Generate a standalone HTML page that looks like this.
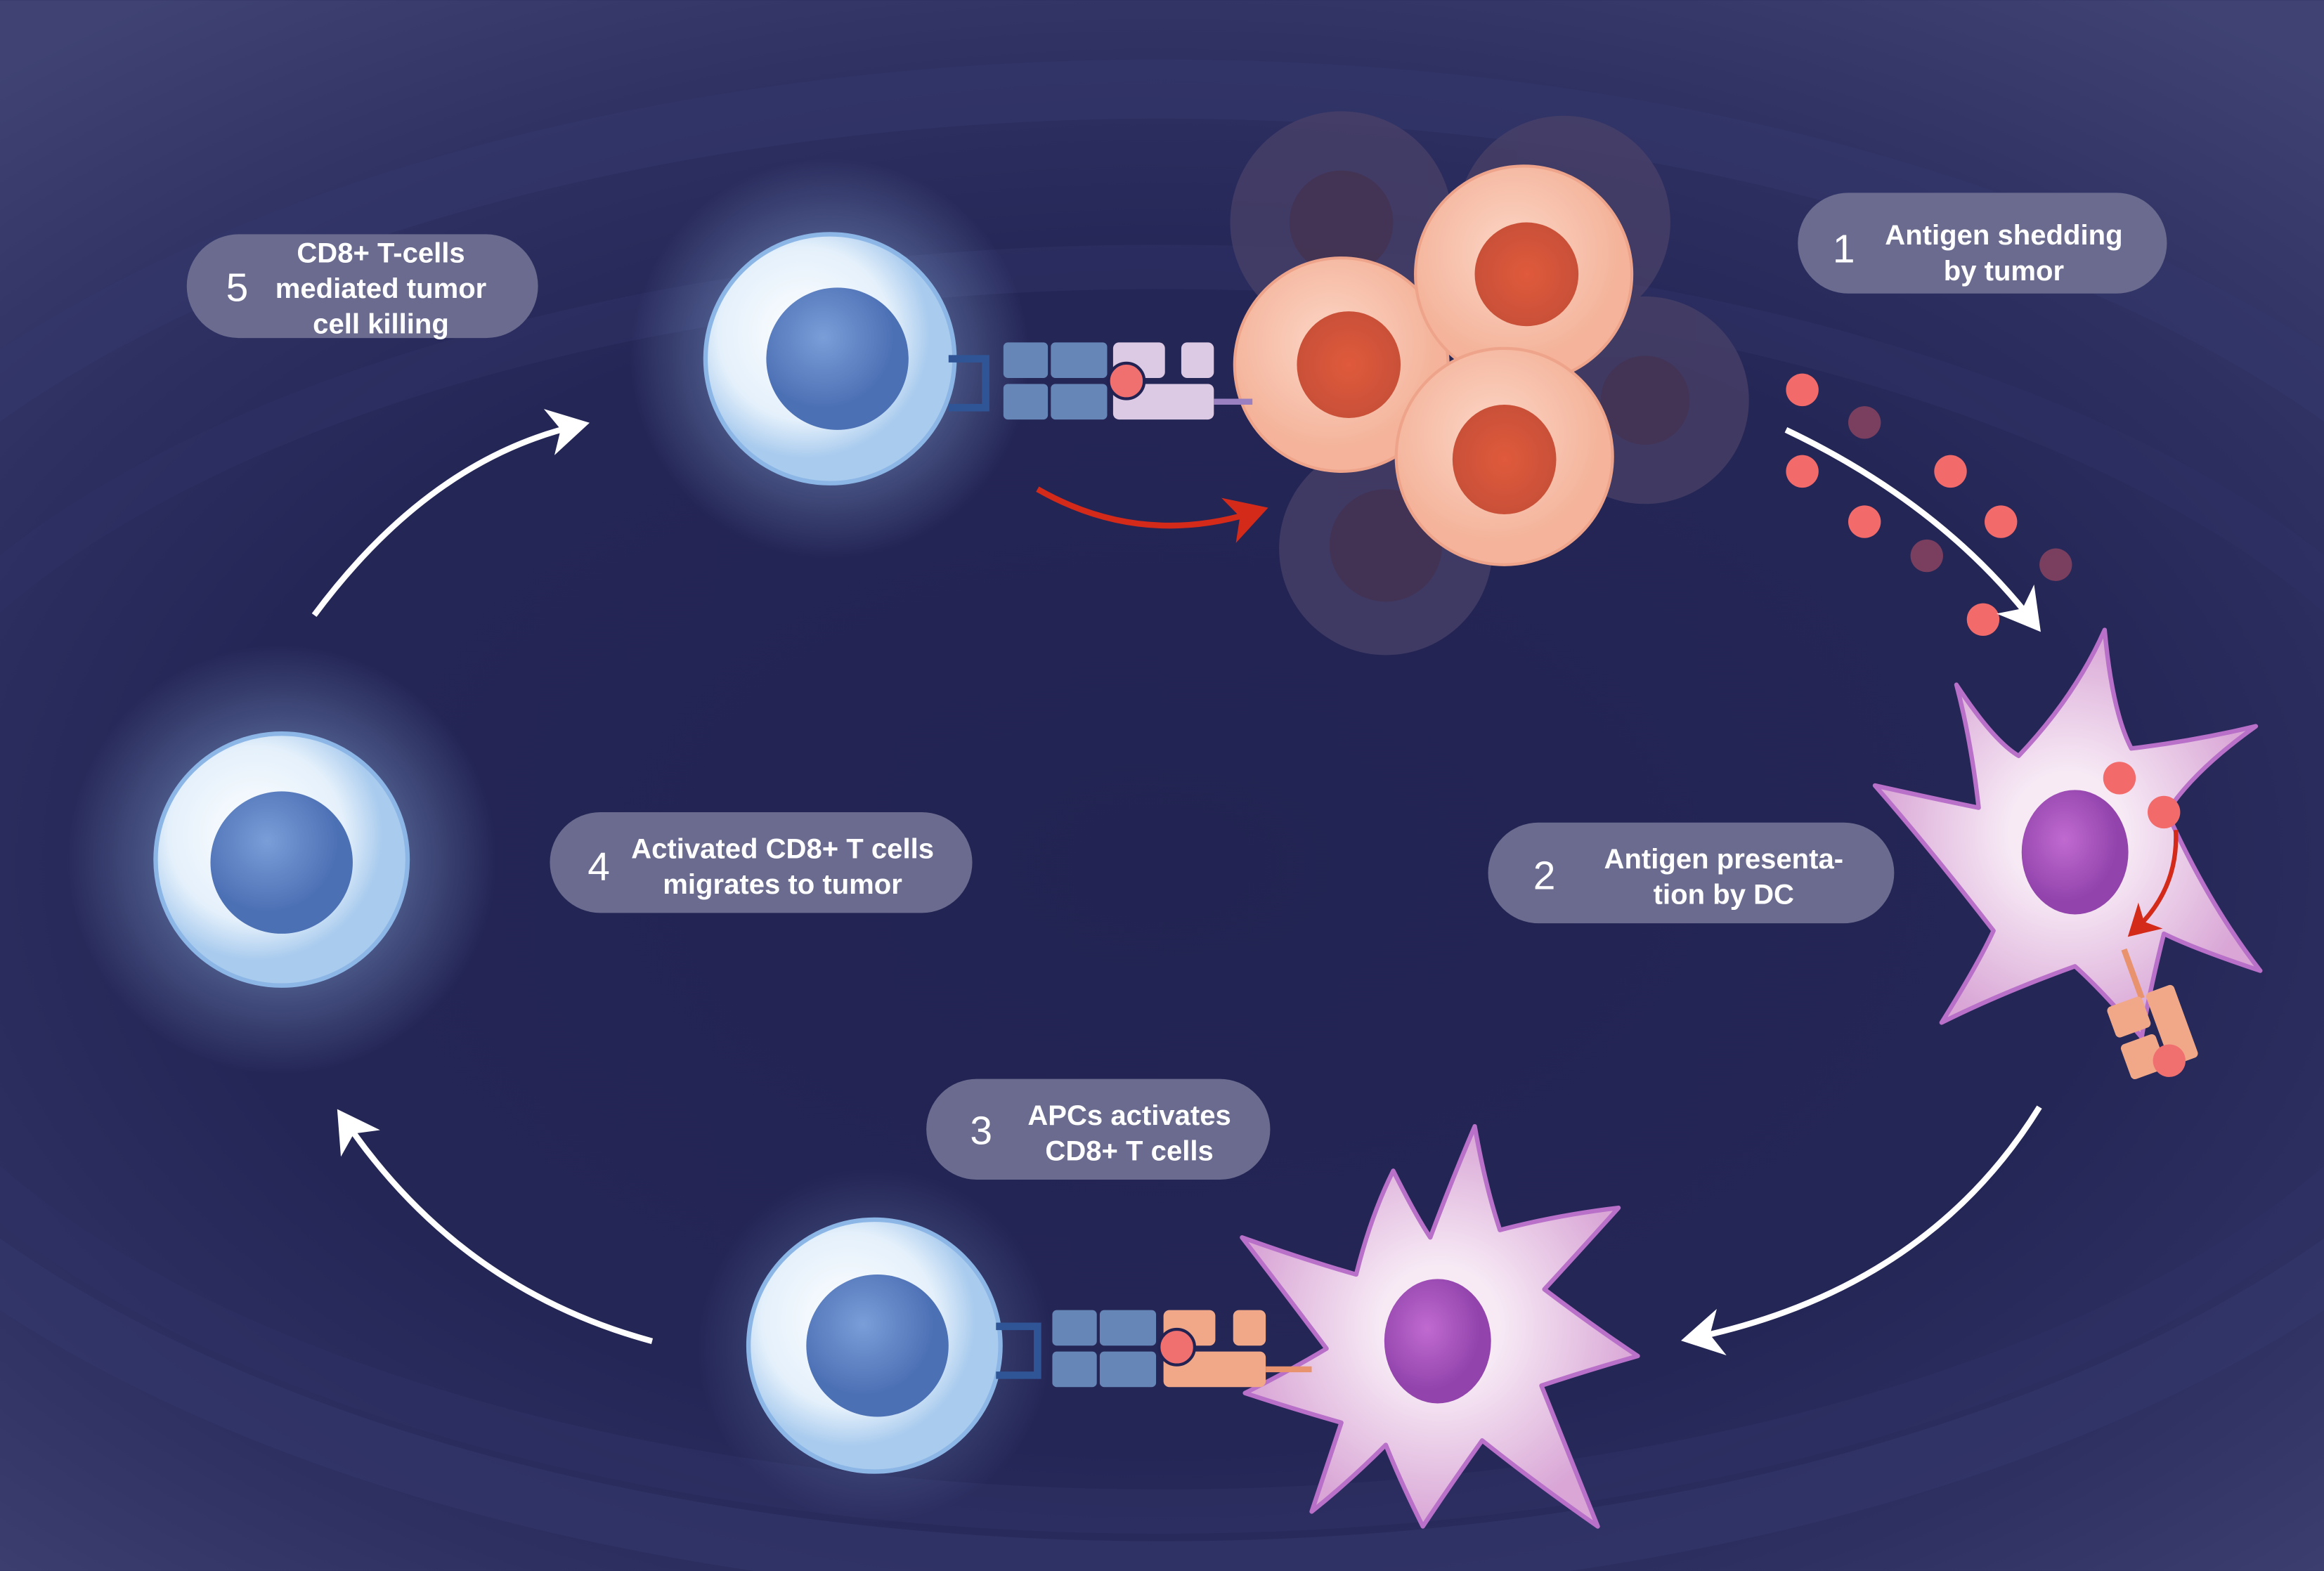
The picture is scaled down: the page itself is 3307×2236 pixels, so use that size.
<!DOCTYPE html>
<html><head><meta charset="utf-8"><style>
html,body{margin:0;padding:0;background:#222352;}
svg{display:block}
text{font-family:"Liberation Sans",sans-serif;fill:#fff}
</style></head><body>
<svg width="3307" height="2236" viewBox="0 0 1568 1060" xmlns="http://www.w3.org/2000/svg">
<defs>
<radialGradient id="bg" cx="0.5" cy="0.55" r="0.75" gradientTransform="translate(0.5 0.55) scale(1 0.9) translate(-0.5 -0.55)">
<stop offset="0" stop-color="#222352"/><stop offset="0.55" stop-color="#242656"/><stop offset="0.75" stop-color="#2e3062"/><stop offset="1" stop-color="#3f4273"/></radialGradient>
<radialGradient id="glow"><stop offset="0.5" stop-color="#8fb0e0" stop-opacity="0.6"/><stop offset="1" stop-color="#8fb0e0" stop-opacity="0"/></radialGradient>
<radialGradient id="tc" cx="0.4" cy="0.4"><stop offset="0" stop-color="#ffffff"/><stop offset="0.7" stop-color="#e4f0fb"/><stop offset="1" stop-color="#a9cbee"/></radialGradient>
<radialGradient id="tn" cx="0.4" cy="0.35"><stop offset="0" stop-color="#7a9ed8"/><stop offset="1" stop-color="#4c70b4"/></radialGradient>
<radialGradient id="tum" cx="0.45" cy="0.4"><stop offset="0" stop-color="#fcd6c6"/><stop offset="1" stop-color="#f4b39a"/></radialGradient>
<radialGradient id="tumn"><stop offset="0" stop-color="#e05a3c"/><stop offset="1" stop-color="#c95038"/></radialGradient>
<radialGradient id="dc"><stop offset="0.3" stop-color="#f7eaf5"/><stop offset="1" stop-color="#d9a6d6"/></radialGradient>
<radialGradient id="dcn" cx="0.4" cy="0.4"><stop offset="0" stop-color="#c06ad0"/><stop offset="1" stop-color="#9244ac"/></radialGradient>
<marker id="aw" markerWidth="8" markerHeight="8" refX="5" refY="4" orient="auto" markerUnits="strokeWidth"><path d="M0,0 L7,4 L0,8 L2,4 z" fill="#fff"/></marker>
<marker id="ar" markerWidth="8" markerHeight="8" refX="5" refY="4" orient="auto" markerUnits="strokeWidth"><path d="M0,0 L7,4 L0,8 L2,4 z" fill="#d42a1a"/></marker>
</defs>
<rect width="1568" height="1060" fill="url(#bg)"/>
<ellipse cx="784" cy="600" rx="900" ry="420" fill="none" stroke="#2e3064" stroke-width="30" opacity="0.6"/>
<ellipse cx="784" cy="560" rx="980" ry="500" fill="none" stroke="#34376a" stroke-width="40" opacity="0.6"/>

<g fill="#4a4268" opacity="0.75">
<circle cx="905" cy="150" r="75"/><circle cx="1055" cy="150" r="72"/><circle cx="1110" cy="270" r="70"/><circle cx="935" cy="370" r="72"/>
</g>
<g fill="#433250" opacity="0.8"><circle cx="905" cy="150" r="35"/><circle cx="935" cy="368" r="38"/><circle cx="1110" cy="270" r="30"/></g>
<circle cx="905" cy="246" r="72" fill="url(#tum)" stroke="#eea48a" stroke-width="2"/><ellipse cx="910" cy="246" rx="35" ry="36" fill="url(#tumn)"/>
<circle cx="1028" cy="185" r="73" fill="url(#tum)" stroke="#eea48a" stroke-width="2"/><ellipse cx="1030" cy="185" rx="35" ry="35" fill="url(#tumn)"/>
<circle cx="1015" cy="308" r="73" fill="url(#tum)" stroke="#eea48a" stroke-width="2"/><ellipse cx="1015" cy="310" rx="35" ry="37" fill="url(#tumn)"/>

<g>
<circle cx="560" cy="242" r="135" fill="url(#glow)" opacity="0.7"/>
<circle cx="560" cy="242" r="84" fill="url(#tc)" stroke="#8cb6e6" stroke-width="3"/>
<circle cx="565" cy="242" r="48" fill="url(#tn)"/>
<circle cx="190" cy="580" r="145" fill="url(#glow)" opacity="0.7"/>
<circle cx="190" cy="580" r="85" fill="url(#tc)" stroke="#8cb6e6" stroke-width="3"/>
<circle cx="190" cy="582" r="48" fill="url(#tn)"/>
<circle cx="590" cy="908" r="120" fill="url(#glow)" opacity="0.4"/>
<circle cx="590" cy="908" r="85" fill="url(#tc)" stroke="#8cb6e6" stroke-width="3"/>
<circle cx="592" cy="908" r="48" fill="url(#tn)"/>
</g>

<g>
<path d="M640 242 H665 V275 H640" fill="none" stroke="#2f5596" stroke-width="5"/>
<rect x="677" y="231" width="30" height="24" rx="3" fill="#6686b8"/><rect x="709" y="231" width="38" height="24" rx="3" fill="#6686b8"/>
<rect x="677" y="259" width="30" height="24" rx="3" fill="#6686b8"/><rect x="709" y="259" width="38" height="24" rx="3" fill="#6686b8"/>
<rect x="751" y="231" width="35" height="24" rx="4" fill="#dcc9e4"/><rect x="797" y="231" width="22" height="24" rx="4" fill="#dcc9e4"/>
<rect x="751" y="259" width="68" height="24" rx="4" fill="#dcc9e4"/>
<line x1="819" y1="271" x2="845" y2="271" stroke="#9a80c0" stroke-width="4"/>
<circle cx="760" cy="257" r="12" fill="#f07070" stroke="#222352" stroke-width="2"/>
</g>

<path d="M1320,462 Q1345,500 1362,510 Q1400,470 1420,425 Q1425,480 1438,505 Q1480,500 1522,490 Q1480,520 1462,548 Q1490,610 1525,655 Q1480,640 1460,630 Q1450,670 1445,700 Q1420,670 1400,652 Q1350,670 1310,690 Q1335,650 1345,628 Q1300,570 1265,530 Q1310,540 1335,545 Q1330,500 1320,462 Z" fill="url(#dc)" stroke="#b870c8" stroke-width="3" stroke-linejoin="round"/>
<ellipse cx="1400" cy="575" rx="36" ry="42" fill="url(#dcn)"/>
<circle cx="1430" cy="525" r="11" fill="#f26a6a"/><circle cx="1460" cy="548" r="11" fill="#f26a6a"/>
<path d="M1468 560 Q1470 600 1440 628" fill="none" stroke="#d42a1a" stroke-width="3" marker-end="url(#ar)"/>
<g transform="rotate(-20 1460 700)">
<line x1="1455" y1="635" x2="1455" y2="670" stroke="#e8936e" stroke-width="4"/>
<rect x="1430" y="668" width="25" height="22" rx="3" fill="#f0a888"/><rect x="1458" y="668" width="20" height="52" rx="3" fill="#f0a888"/>
<rect x="1430" y="695" width="25" height="25" rx="3" fill="#f0a888"/>
<circle cx="1458" cy="716" r="11" fill="#f07070"/>
</g>

<path d="M940,790 Q955,820 965,835 Q980,795 995,760 Q1002,800 1012,830 Q1050,820 1092,815 Q1065,845 1042,870 Q1075,895 1105,915 Q1070,925 1040,935 Q1060,985 1078,1030 Q1035,1000 1000,972 Q980,1000 960,1030 Q945,1000 935,975 Q910,1000 885,1020 Q895,990 905,960 Q870,950 840,940 Q870,925 895,910 Q865,870 838,835 Q880,850 915,860 Q925,820 940,790 Z" fill="url(#dc)" stroke="#b870c8" stroke-width="3" stroke-linejoin="round"/>
<ellipse cx="970" cy="905" rx="36" ry="42" fill="url(#dcn)"/>

<g>
<path d="M672 895 H700 V928 H672" fill="none" stroke="#2f5596" stroke-width="5"/>
<rect x="710" y="884" width="30" height="24" rx="3" fill="#6686b8"/><rect x="742" y="884" width="38" height="24" rx="3" fill="#6686b8"/>
<rect x="710" y="912" width="30" height="24" rx="3" fill="#6686b8"/><rect x="742" y="912" width="38" height="24" rx="3" fill="#6686b8"/>
<rect x="785" y="884" width="35" height="24" rx="4" fill="#f0a888"/><rect x="832" y="884" width="22" height="24" rx="4" fill="#f0a888"/>
<rect x="785" y="912" width="69" height="24" rx="4" fill="#f0a888"/>
<line x1="854" y1="924" x2="885" y2="924" stroke="#e8936e" stroke-width="4"/>
<circle cx="794" cy="909" r="12" fill="#f07070" stroke="#222352" stroke-width="2"/>
</g>

<g fill="#f26a6a"><circle cx="1216" cy="263" r="11"/><circle cx="1216" cy="318" r="11"/><circle cx="1316" cy="318" r="11"/><circle cx="1258" cy="352" r="11"/><circle cx="1350" cy="352" r="11"/><circle cx="1338" cy="418" r="11"/></g>
<g fill="#7a3e5e"><circle cx="1258" cy="285" r="11"/><circle cx="1300" cy="375" r="11"/><circle cx="1387" cy="381" r="11"/></g>

<g fill="none" stroke="#fff" stroke-width="4">
<path d="M1205 290 Q1310 340 1372 420" marker-end="url(#aw)"/>
<path d="M1376 747 Q1300 870 1142 903" marker-end="url(#aw)"/>
<path d="M440 905 Q310 870 232 755" marker-end="url(#aw)"/>
<path d="M212 415 Q290 310 390 287" marker-end="url(#aw)"/>
</g>
<path d="M700 330 Q770 370 848 345" fill="none" stroke="#d42a1a" stroke-width="4" marker-end="url(#ar)"/>

<g fill="#6a6b8e">
<rect x="1213" y="130" width="249" height="68" rx="34"/>
<rect x="1004" y="555" width="274" height="68" rx="34"/>
<rect x="625" y="728" width="232" height="68" rx="34"/>
<rect x="371" y="548" width="285" height="68" rx="34"/>
<rect x="126" y="158" width="237" height="70" rx="35"/>
</g>
<g font-weight="bold" font-size="19" text-anchor="middle">
<text x="1352" y="165">Antigen shedding</text><text x="1352" y="189">by tumor</text>
<text x="1163" y="586">Antigen presenta-</text><text x="1163" y="610">tion by DC</text>
<text x="762" y="759">APCs activates</text><text x="762" y="783">CD8+ T cells</text>
<text x="528" y="579">Activated CD8+ T cells</text><text x="528" y="603">migrates to tumor</text>
<text x="257" y="177">CD8+ T-cells</text><text x="257" y="201">mediated tumor</text><text x="257" y="225">cell  killing</text>
</g>
<g font-size="27" text-anchor="middle">
<text x="1244" y="177">1</text><text x="1042" y="600">2</text><text x="662" y="772">3</text><text x="404" y="594">4</text><text x="160" y="203">5</text>
</g>
</svg>
</body></html>
